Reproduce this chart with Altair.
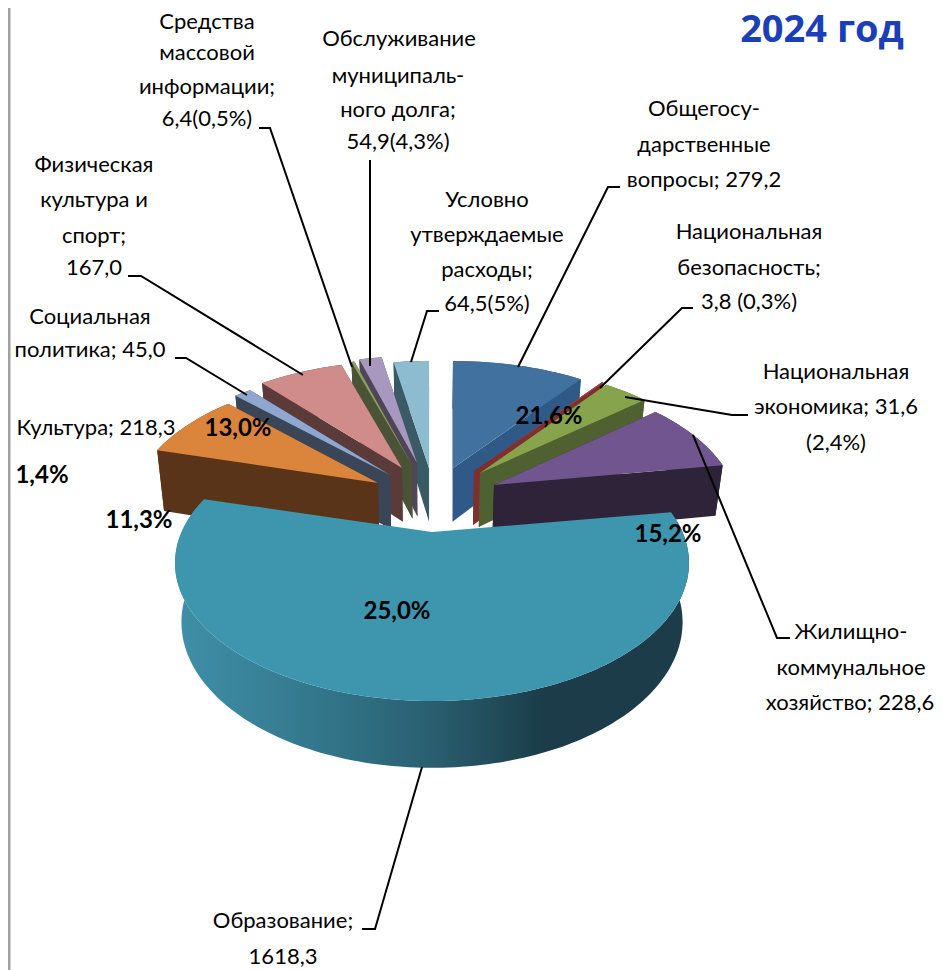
import math
import altair as alt

# ---- data ----
categories = ["Общегосударственные вопросы", "Национальная безопасность", "Национальная экономика",
              "Жилищно-коммунальное хозяйство", "Образование", "Культура", "Социальная политика",
              "Физическая культура и спорт", "Средства массовой информации",
              "Обслуживание муниципального долга", "Условно утверждаемые расходы"]
# sector sizes as drawn in the picture (they differ somewhat from the captions)
sector_values = [279.2, 3.8, 97.0, 231.0, 1543.0, 219.0, 36.0, 179.0, 6.4, 47.5, 75.0]

title_text = "2024 год"
caption_lines = [
    ["Средства", "массовой", "информации;", "6,4(0,5%)"],
    ["Обслуживание", "муниципаль-", "ного долга;", "54,9(4,3%)"],
    ["Физическая", "культура и", "спорт;", "167,0"],
    ["Условно", "утверждаемые", "расходы;", "64,5(5%)"],
    ["Общегосу-", "дарственные", "вопросы; 279,2"],
    ["Национальная", "безопасность;", "3,8 (0,3%)"],
    ["Национальная", "экономика; 31,6", "(2,4%)"],
    ["Социальная", "политика; 45,0"],
    ["Культура; 218,3"],
    ["Жилищно-", "коммунальное", "хозяйство; 228,6"],
    ["Образование;", "1618,3"],
]
percent_labels = ["21,6%", "13,0%", "1,4%", "11,3%", "15,2%", "25,0%"]

# ---- layout (page pixels) ----
PAGE = 8
RX, RY, APEX_DROP = 257, 138, 31
PERSPECTIVE = 0.796
apexes = [(453, 468), (474, 471), (480, 473), (494, 485), (432, 532), (378, 483),
          (390, 475), (402, 468), (412, 465), (417, 463), (429, 468)]
rim_scale = [1, 1, 0.975, 0.957, 1, 0.969, 1, 1, 1, 1, 1]
extra_depth = [0, 0, 0, -3, 0, 8, 0, 0, 0, 0, 0]
top_colors = ["#41719F", "#A33F3C", "#87A44C", "#71558F", "#3E95AE", "#DB843C",
              "#8FA6CF", "#CF8C8B", "#8E9F62", "#A897BF", "#8DBCD0"]
wall_colors = ["#2F5A87", "#7F2F2D", "#4F6130", "#2E2338", "#1B3C48", "#5A3418",
               "#3A4658", "#5B3A3A", "#4A5336", "#4F4558", "#3A5A66"]
draw_order = [10, 9, 8, 7, 6, 5, 0, 1, 2, 3]
TEAL = 4
caption_pos = [
    [(207, 22), (207, 53), (207, 87), (207, 119)],
    [(399, 39), (398, 76), (398, 110), (398, 142)],
    [(94, 165), (94, 200), (94, 236), (94, 268)],
    [(487, 200), (487, 235), (487, 270), (487, 304)],
    [(704, 109), (704, 145), (704, 180)],
    [(749, 232), (749, 268), (749, 302)],
    [(836, 372), (836, 407), (836, 443)],
    [(90, 317), (90, 350)],
    [(96, 428)],
    [(851, 632), (851, 668), (850, 703)],
    [(283, 921), (283, 957)],
]
percent_pos = [(549, 417), (238, 429), (42, 476), (139, 521), (668, 535), (397, 612)]
leaders = [
    [(259, 128), (270, 128), (352, 367)],
    [(370, 160), (370, 366)],
    [(128, 276), (141, 276), (303, 375)],
    [(439, 311), (427, 311), (411, 362)],
    [(620, 187), (608, 187), (518, 367)],
    [(693, 308), (682, 308), (600, 388)],
    [(748, 415), (732, 415), (625, 397)],
    [(790, 638), (777, 638), (693, 435)],
    [(362, 929), (375, 929), (422, 767)],
    [(175, 358), (186, 358), (247, 395)],
]


def sector_bounds(values):
    total = sum(values)
    out, acc = [], 0.0
    for v in values:
        out.append((acc / total * 360, (acc + v) / total * 360))
        acc += v
    return out


def seen_angle(phi):
    """Ground-plane angle -> angle round the tilted rim."""
    if phi >= 360:
        return 360.0
    if abs(phi - 180) < 1e-6:
        return 180.0
    half = math.radians(phi / 2)
    u = 2 * math.degrees(math.atan(PERSPECTIVE * math.tan(half)))
    return u % 360 if phi > 0 else 0.0


def rim(i, u):
    r = math.radians(u)
    ax, ay = apexes[i]
    return (ax + RX * rim_scale[i] * math.sin(r), ay + APEX_DROP - RY * math.cos(r))


def drop(p, i):
    x, y = p
    return (432 + (x - 432) * 0.975, y + 50 + (y - 400) * 0.056 + extra_depth[i])


def arc_points(i, a, b):
    n = max(2, int(abs(b - a) / 1.5) + 1)
    return [rim(i, a + (b - a) * k / n) for k in range(n + 1)]


def poly(points, fill):
    ring = [[round(x, 2), round(y, 2)] for x, y in points]
    ring.append(ring[0])
    return {"type": "Feature", "geometry": {"type": "Polygon", "coordinates": [ring]},
            "properties": {"fill": fill}}


def wedge_parts(i):
    start, end = bounds[i]
    a, b = seen_angle(start), seen_angle(end)
    apex = apexes[i]
    arc = arc_points(i, a, b)
    wall = [
        poly([apex, arc[0], drop(arc[0], i), drop(apex, i)], wall_colors[i]),
        poly([apex, arc[-1], drop(arc[-1], i), drop(apex, i)], wall_colors[i]),
        poly(arc + [drop(p, i) for p in reversed(arc)], wall_colors[i]),
    ]
    return wall, poly([apex] + arc, top_colors[i]), arc


bounds = sector_bounds(sector_values)
back_features = []
for i in draw_order:
    w, t, _ = wedge_parts(i)
    back_features += w + [t]

_, teal_top, teal_arc = wedge_parts(TEAL)
teal_wall = poly(teal_arc + [drop(p, TEAL) for p in reversed(teal_arc)], "x")

line_features = [{"type": "Feature", "properties": {},
                  "geometry": {"type": "LineString", "coordinates": [list(p) for p in pts]}}
                 for pts in leaders]
edge_feature = {"type": "Feature", "properties": {},
                "geometry": {"type": "LineString", "coordinates": [[9, 0], [9, 970]]}}

caption_rows = [{"t": t, "x": p[0], "y": p[1]}
                for lines, pos in zip(caption_lines, caption_pos) for t, p in zip(lines, pos)]
percent_rows = [{"t": t, "x": p[0], "y": p[1]} for t, p in zip(percent_labels, percent_pos)]

FONT = "Lato"
proj = dict(type="identity", scale=1, translate=[-PAGE, -PAGE])


def shapes(features):
    return alt.Chart(alt.InlineData(values=features, format=alt.DataFormat(type="json")))


back = shapes(back_features).mark_geoshape(strokeWidth=0).encode(
    fill=alt.Fill("properties.fill:N", scale=None)).project(**proj)
wall = shapes([teal_wall]).mark_geoshape(
    strokeWidth=0,
    fill=alt.LinearGradient(gradient="linear", x1=0, x2=1, y1=0, y2=0, stops=[
        alt.GradientStop(offset=0, color="#3F90A8"),
        alt.GradientStop(offset=0.25, color="#347A8F"),
        alt.GradientStop(offset=0.5, color="#2A5F70"),
        alt.GradientStop(offset=0.72, color="#1B3C48"),
        alt.GradientStop(offset=1, color="#1B3C48"),
    ])).project(**proj)
top = shapes([teal_top]).mark_geoshape(strokeWidth=0).encode(
    fill=alt.Fill("properties.fill:N", scale=None)).project(**proj)
lines = shapes(line_features).mark_geoshape(
    filled=False, stroke="#000000", strokeWidth=2).project(**proj)
edge = shapes([edge_feature]).mark_geoshape(
    filled=False, stroke="#A0A0A0", strokeWidth=3).project(**proj)

captions = alt.Chart(alt.Data(values=caption_rows)).mark_text(
    font=FONT, fontSize=22, color="#000000", align="center", baseline="middle").encode(
    longitude="x:Q", latitude="y:Q", text="t:N").project(**proj)
percents = alt.Chart(alt.Data(values=percent_rows)).mark_text(
    font=FONT, fontSize=24, fontWeight="bold", color="#000000", align="center", baseline="middle").encode(
    longitude="x:Q", latitude="y:Q", text="t:N").project(**proj)
title = alt.Chart(alt.Data(values=[{"t": title_text, "x": 822, "y": 31}])).mark_text(
    font="Open Sans", fontSize=38, fontWeight="bold", color="#1A3FB8", align="center", baseline="middle").encode(
    longitude="x:Q", latitude="y:Q", text="t:N").project(**proj)

chart = alt.layer(edge, back, wall, top, lines, captions, percents, title).properties(
    width=927, height=962, padding=0, background="#FFFFFF",
    autosize=alt.AutoSizeParams(type="none")
).configure_view(stroke=None)

chart.save("out.html", embed_options={"renderer": "svg", "actions": False})
